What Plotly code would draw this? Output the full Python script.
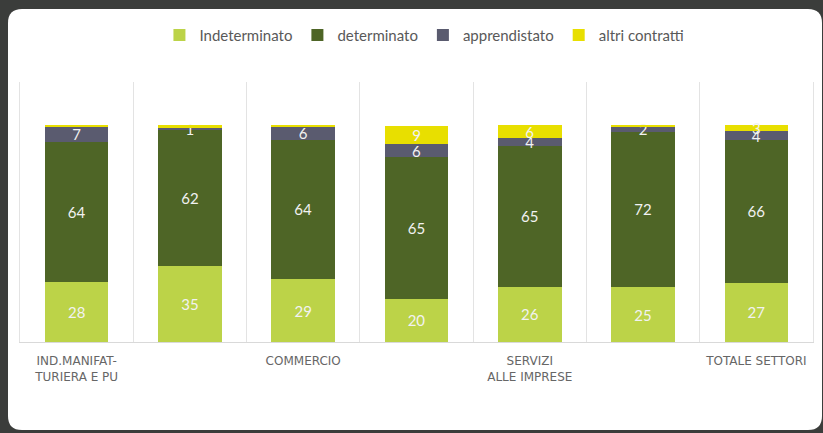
import plotly.graph_objects as go

# settori (only alternate labels are printed on the axis in the original)
settori = ['IND.MANIFAT-<br>TURIERA E PU', '', 'COMMERCIO', '', 'SERVIZI<br>ALLE IMPRESE', '', 'TOTALE SETTORI']

# quote % per tipo di contratto
indeterminato = [27.8, 35.3, 29.0, 20.0, 25.6, 25.3, 27.3]
determinato = [64.4, 62.4, 64.4, 65.2, 64.8, 71.8, 65.9]
apprendistato = [7.2, 1.4, 6.0, 6.1, 3.8, 2.2, 4.2]
altri = [0.6, 0.9, 0.6, 8.6, 5.8, 0.7, 2.6]

series = [
    ('Indeterminato', indeterminato, '#bcd348'),
    ('determinato', determinato, '#4e6526'),
    ('apprendistato', apprendistato, '#5a5b6f'),
    ('altri contratti', altri, '#e8df00'),
]

x = list(range(len(settori)))
fig = go.Figure()

for name, vals, col in series:
    # tiny slices get no label
    txt = [f'{v:.0f}' if v >= 1 else '' for v in vals]
    fig.add_trace(go.Bar(
        x=x, y=vals, name=name,
        marker=dict(color=col, line=dict(width=0)),
        text=txt, textposition='inside', insidetextanchor='middle',
        constraintext='none', textangle=0,
        textfont=dict(family='Lato', size=15, color='#f2f2f2'),
        hoverinfo='skip',
    ))

W, H = 823, 433
ml, mr, mt, mb = 20, 10, 82, 91
pw, ph = W - ml - mr, H - mt - mb

# white rounded card behind the chart (paper coords)
def px(v):
    return (v - ml) / pw

def py(v):
    return (H - mb - v) / ph

x0, x1, y0, y1 = px(8), px(822), py(430), py(9)
rx, ry = 14 / pw, 14 / ph
card = (f'M {x0+rx},{y1} L {x1-rx},{y1} Q {x1},{y1} {x1},{y1-ry} '
        f'L {x1},{y0+ry} Q {x1},{y0} {x1-rx},{y0} L {x0+rx},{y0} '
        f'Q {x0},{y0} {x0},{y0+ry} L {x0},{y1-ry} Q {x0},{y1} {x0+rx},{y1} Z')

fig.update_layout(
    width=W, height=H,
    barmode='stack', bargap=0.44,
    margin=dict(l=ml, r=mr, t=mt, b=mb),
    paper_bgcolor='#3b3d3b', plot_bgcolor='rgba(0,0,0,0)',
    font=dict(family='Lato', color='#595959'),
    shapes=[dict(type='path', path=card, xref='paper', yref='paper',
                 fillcolor='white', line=dict(width=0), layer='below')],
    legend=dict(orientation='h', x=0.51, xanchor='center', y=1.18, yanchor='middle',
                font=dict(size=15, color='#595959'), itemwidth=30,
                traceorder='normal', bgcolor='rgba(0,0,0,0)'),
    showlegend=True,
)

fig.update_xaxes(
    range=[-0.5, len(settori) - 0.5],
    tickvals=x, ticktext=settori, ticks='', ticklabelstandoff=8,
    tickfont=dict(family='DejaVu Sans', size=12, color='#666666'),
    showgrid=False, zeroline=False,
    showline=True, linecolor='#d9d9d9', linewidth=1,
    minor=dict(tickmode='linear', tick0=-0.5, dtick=1, showgrid=True,
               gridcolor='#e3e3e3', gridwidth=1, ticks=''),
)
fig.update_yaxes(
    range=[0, 120], showticklabels=False, showgrid=False, zeroline=False,
    showline=True, mirror=True, linecolor='#e3e3e3', linewidth=1,
)

# drop the default page margin so the figure sits at the window corner
fig.write_html('out.html', config={'displayModeBar': False},
               post_script="document.body.style.margin='0';"
               "document.body.style.background='#3b3d3b';")
